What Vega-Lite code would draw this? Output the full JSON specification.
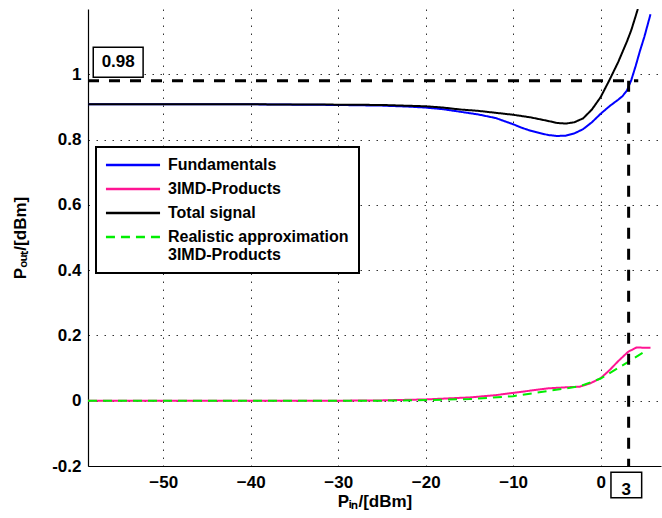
{
  "$schema": "https://vega.github.io/schema/vega-lite/v6.json",
  "width": 573,
  "height": 457,
  "autosize": "none",
  "padding": {"left": 88, "top": 9, "right": 1, "bottom": 52},
  "background": "white",
  "datasets": {
    "curves": [
      {"x": -58.6, "y": 0.908, "series": "Fundamentals"},
      {"x": -50, "y": 0.908, "series": "Fundamentals"},
      {"x": -40, "y": 0.908, "series": "Fundamentals"},
      {"x": -30, "y": 0.906, "series": "Fundamentals"},
      {"x": -25, "y": 0.904, "series": "Fundamentals"},
      {"x": -22, "y": 0.901, "series": "Fundamentals"},
      {"x": -20, "y": 0.898, "series": "Fundamentals"},
      {"x": -18, "y": 0.893, "series": "Fundamentals"},
      {"x": -16, "y": 0.885, "series": "Fundamentals"},
      {"x": -14, "y": 0.877, "series": "Fundamentals"},
      {"x": -12, "y": 0.866, "series": "Fundamentals"},
      {"x": -10, "y": 0.847, "series": "Fundamentals"},
      {"x": -9, "y": 0.836, "series": "Fundamentals"},
      {"x": -8, "y": 0.827, "series": "Fundamentals"},
      {"x": -7, "y": 0.82, "series": "Fundamentals"},
      {"x": -6, "y": 0.814, "series": "Fundamentals"},
      {"x": -5, "y": 0.811, "series": "Fundamentals"},
      {"x": -4, "y": 0.812, "series": "Fundamentals"},
      {"x": -3, "y": 0.819, "series": "Fundamentals"},
      {"x": -2, "y": 0.832, "series": "Fundamentals"},
      {"x": -1, "y": 0.853, "series": "Fundamentals"},
      {"x": 0, "y": 0.879, "series": "Fundamentals"},
      {"x": 1, "y": 0.902, "series": "Fundamentals"},
      {"x": 2, "y": 0.922, "series": "Fundamentals"},
      {"x": 2.5, "y": 0.933, "series": "Fundamentals"},
      {"x": 3, "y": 0.95, "series": "Fundamentals"},
      {"x": 3.5, "y": 0.982, "series": "Fundamentals"},
      {"x": 4, "y": 1.025, "series": "Fundamentals"},
      {"x": 4.5, "y": 1.072, "series": "Fundamentals"},
      {"x": 5, "y": 1.115, "series": "Fundamentals"},
      {"x": 5.7, "y": 1.184, "series": "Fundamentals"},

      {"x": -58.6, "y": 0, "series": "3IMD-Products"},
      {"x": -30, "y": 0, "series": "3IMD-Products"},
      {"x": -25, "y": 0.001, "series": "3IMD-Products"},
      {"x": -20, "y": 0.004, "series": "3IMD-Products"},
      {"x": -15, "y": 0.01, "series": "3IMD-Products"},
      {"x": -12, "y": 0.017, "series": "3IMD-Products"},
      {"x": -10, "y": 0.024, "series": "3IMD-Products"},
      {"x": -8, "y": 0.031, "series": "3IMD-Products"},
      {"x": -6, "y": 0.038, "series": "3IMD-Products"},
      {"x": -4, "y": 0.041, "series": "3IMD-Products"},
      {"x": -2.4, "y": 0.043, "series": "3IMD-Products"},
      {"x": -1.2, "y": 0.053, "series": "3IMD-Products"},
      {"x": 0, "y": 0.069, "series": "3IMD-Products"},
      {"x": 1, "y": 0.093, "series": "3IMD-Products"},
      {"x": 2, "y": 0.121, "series": "3IMD-Products"},
      {"x": 3.15, "y": 0.15, "series": "3IMD-Products"},
      {"x": 4.1, "y": 0.163, "series": "3IMD-Products"},
      {"x": 5.7, "y": 0.162, "series": "3IMD-Products"},

      {"x": -58.6, "y": 0.908, "series": "Total signal"},
      {"x": -40, "y": 0.908, "series": "Total signal"},
      {"x": -30, "y": 0.907, "series": "Total signal"},
      {"x": -25, "y": 0.906, "series": "Total signal"},
      {"x": -20, "y": 0.902, "series": "Total signal"},
      {"x": -18, "y": 0.898, "series": "Total signal"},
      {"x": -16, "y": 0.892, "series": "Total signal"},
      {"x": -14, "y": 0.888, "series": "Total signal"},
      {"x": -12, "y": 0.882, "series": "Total signal"},
      {"x": -10, "y": 0.876, "series": "Total signal"},
      {"x": -8, "y": 0.868, "series": "Total signal"},
      {"x": -6, "y": 0.857, "series": "Total signal"},
      {"x": -5, "y": 0.851, "series": "Total signal"},
      {"x": -4, "y": 0.849, "series": "Total signal"},
      {"x": -3, "y": 0.853, "series": "Total signal"},
      {"x": -2, "y": 0.865, "series": "Total signal"},
      {"x": -1, "y": 0.892, "series": "Total signal"},
      {"x": 0, "y": 0.93, "series": "Total signal"},
      {"x": 1, "y": 0.982, "series": "Total signal"},
      {"x": 2, "y": 1.037, "series": "Total signal"},
      {"x": 3, "y": 1.1, "series": "Total signal"},
      {"x": 3.5, "y": 1.135, "series": "Total signal"},
      {"x": 4, "y": 1.178, "series": "Total signal"},
      {"x": 4.25, "y": 1.2, "series": "Total signal"},

      {"x": -58.6, "y": 0, "series": "Realistic approximation|3IMD-Products"},
      {"x": -25, "y": 0, "series": "Realistic approximation|3IMD-Products"},
      {"x": -20, "y": 0.002, "series": "Realistic approximation|3IMD-Products"},
      {"x": -15, "y": 0.005, "series": "Realistic approximation|3IMD-Products"},
      {"x": -10, "y": 0.014, "series": "Realistic approximation|3IMD-Products"},
      {"x": -6.2, "y": 0.029, "series": "Realistic approximation|3IMD-Products"},
      {"x": -2.4, "y": 0.044, "series": "Realistic approximation|3IMD-Products"},
      {"x": 0, "y": 0.068, "series": "Realistic approximation|3IMD-Products"},
      {"x": 3.16, "y": 0.119, "series": "Realistic approximation|3IMD-Products"},
      {"x": 5.3, "y": 0.155, "series": "Realistic approximation|3IMD-Products"}
    ],
    "refs": [
      {"x": -58.6, "x2": 4.3, "y": 0.98, "y2": 0.98},
      {"x": 3.2, "x2": 3.2, "y": 0.98, "y2": -0.2}
    ],
    "boxes": [
      {"x": -58.0, "x2": -52.3, "y": 0.991, "y2": 1.083, "label": "0.98", "tx": -55.15, "ty": 1.037},
      {"x": 1.18, "x2": 4.69, "y": -0.2193, "y2": -0.297, "label": "3", "tx": 2.93, "ty": -0.2735}
    ]
  },
  "layer": [
    {
      "data": {"name": "curves"},
      "mark": {"type": "line", "clip": true, "strokeWidth": 2},
      "encoding": {
        "x": {"field": "x", "type": "quantitative", "title": "Pᵢₙ/[dBm]",
              "scale": {"domain": [-58.6, 6.9], "nice": false, "zero": false},
              "axis": {"values": [-50, -40, -30, -20, -10, 0]}},
        "y": {"field": "y", "type": "quantitative", "title": "Pₒᵤₜ/[dBm]",
              "scale": {"domain": [-0.2, 1.2], "nice": false, "zero": false},
              "axis": {"values": [-0.2, 0, 0.2, 0.4, 0.6, 0.8, 1],
                       "labelExpr": "datum.value < 0 ? '-' + format(-datum.value, '~g') : format(datum.value, '~g')"}},
        "color": {"field": "series", "type": "nominal", "title": null,
                  "scale": {"domain": ["Fundamentals", "3IMD-Products", "Total signal", "Realistic approximation|3IMD-Products"],
                            "range": ["#0000FF", "#FF1493", "#000000", "#00EE00"]},
                  "legend": {"labelExpr": "split(datum.label, '|')"}},
        "strokeDash": {"field": "series", "type": "nominal", "title": null,
                  "scale": {"domain": ["Fundamentals", "3IMD-Products", "Total signal", "Realistic approximation|3IMD-Products"],
                            "range": [[1, 0], [1, 0], [1, 0], [9, 6]]},
                  "legend": {"labelExpr": "split(datum.label, '|')"}},
        "order": {"field": "x", "type": "quantitative"}
      }
    },
    {
      "data": {"name": "refs"},
      "mark": {"type": "rule", "color": "black", "strokeWidth": 3, "strokeDash": [11, 10]},
      "encoding": {
        "x": {"field": "x", "type": "quantitative", "title": "Pᵢₙ/[dBm]"},
        "x2": {"field": "x2"},
        "y": {"field": "y", "type": "quantitative", "title": "Pₒᵤₜ/[dBm]"},
        "y2": {"field": "y2"}
      }
    },
    {
      "data": {"name": "boxes"},
      "mark": {"type": "rect", "fill": "white", "stroke": "black", "strokeWidth": 1.5},
      "encoding": {
        "x": {"field": "x", "type": "quantitative", "title": "Pᵢₙ/[dBm]"},
        "x2": {"field": "x2"},
        "y": {"field": "y", "type": "quantitative", "title": "Pₒᵤₜ/[dBm]"},
        "y2": {"field": "y2"}
      }
    },
    {
      "data": {"name": "boxes"},
      "mark": {"type": "text", "font": "Liberation Sans", "fontWeight": "bold", "fontSize": 17, "baseline": "middle", "align": "center", "color": "black"},
      "encoding": {
        "x": {"field": "tx", "type": "quantitative", "title": "Pᵢₙ/[dBm]"},
        "y": {"field": "ty", "type": "quantitative", "title": "Pₒᵤₜ/[dBm]"},
        "text": {"field": "label"}
      }
    }
  ],
  "config": {
    "view": {"stroke": null},
    "axis": {
      "domainColor": "black",
      "domainWidth": 1.2,
      "ticks": false,
      "grid": true,
      "gridColor": "black",
      "gridDash": [1.5, 6.5],
      "gridWidth": 1,
      "gridOpacity": 0.8,
      "labelFont": "Liberation Sans",
      "labelFontWeight": "bold",
      "labelFontSize": 17,
      "labelColor": "black",
      "titleFont": "Liberation Sans",
      "titleFontWeight": "bold",
      "titleFontSize": 17,
      "titleColor": "black"
    },
    "axisX": {"labelPadding": 8, "titlePadding": 3, "labelFlush": false},
    "axisY": {"labelPadding": 7, "titlePadding": 22, "labelFlush": false},
    "legend": {
      "orient": "none",
      "legendX": 8,
      "legendY": 138,
      "strokeColor": "black",
      "strokeWidth": 2,
      "fillColor": "white",
      "padding": 10,
      "symbolType": "M-5,0H5",
      "symbolSize": 117,
      "symbolStrokeWidth": 2.5,
      "symbolOffset": 19,
      "labelFont": "Liberation Sans",
      "labelFontWeight": "bold",
      "labelFontSize": 16,
      "labelColor": "black",
      "labelLimit": 400,
      "labelOffset": 27,
      "rowPadding": 8
    }
  }
}
